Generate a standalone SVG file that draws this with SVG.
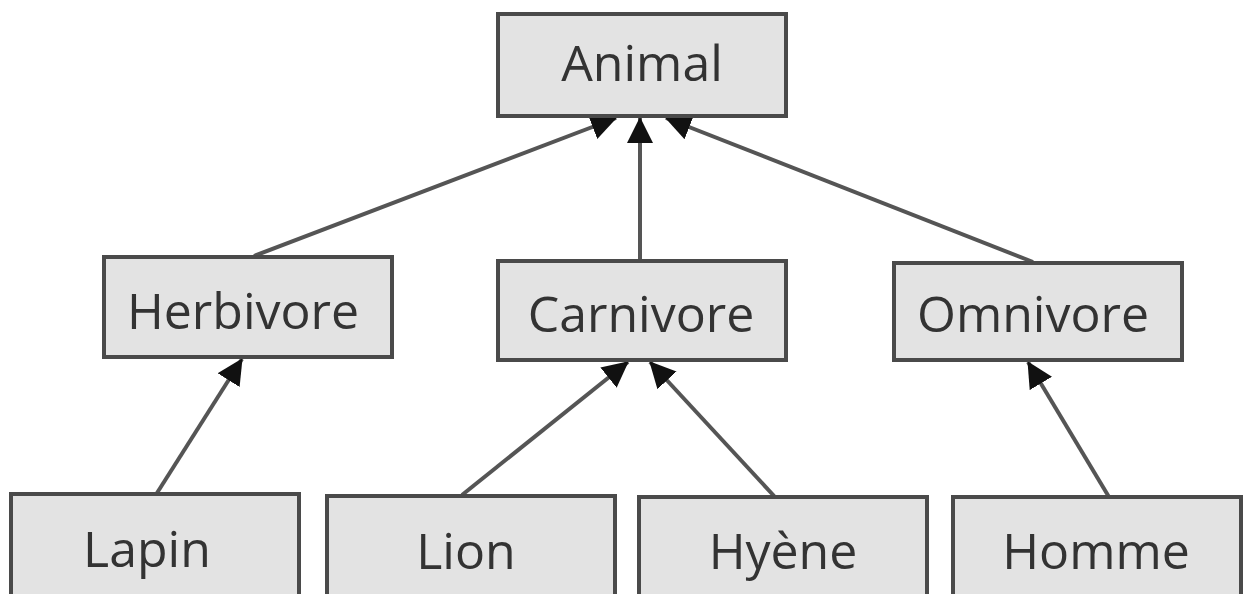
<svg xmlns="http://www.w3.org/2000/svg" width="1243" height="594" viewBox="0 0 1243 594">
  <style>
    .box { fill: #e3e3e3; stroke: #4a4a4a; stroke-width: 4; }
    .lbl { font-family: "Open Sans", "DejaVu Sans", sans-serif; font-size: 50px; fill: #333; text-anchor: middle; }
    .edge { stroke: #555555; stroke-width: 4; fill: none; marker-end: url(#head); }
  </style>
  <defs>
    <marker id="head" markerUnits="userSpaceOnUse" markerWidth="26" markerHeight="28" viewBox="0 0 26 28" refX="25" refY="14" orient="auto">
      <path d="M0,1 L26,14 L0,27 Z" fill="#111"/>
    </marker>
  </defs>
  <rect width="1243" height="594" fill="#ffffff"/>

  <!-- inheritance links -->
  <g id="connectors">
    <line class="edge" x1="254" y1="256" x2="616" y2="118"/>
    <line class="edge" x1="640" y1="260" x2="640" y2="118"/>
    <line class="edge" x1="1033" y1="262" x2="666" y2="118"/>
    <line class="edge" x1="157" y1="493" x2="242" y2="359"/>
    <line class="edge" x1="462" y1="495" x2="628" y2="362"/>
    <line class="edge" x1="775" y1="497" x2="650" y2="362"/>
    <line class="edge" x1="1109" y1="497" x2="1028" y2="362"/>
  </g>

  <g id="animal">
    <rect class="box" x="498" y="14" width="288" height="102"/>
    <text class="lbl" x="642" y="81">Animal</text>
  </g>
  <g id="herbivore">
    <rect class="box" x="104" y="257" width="288" height="100"/>
    <text class="lbl" x="243" y="329">Herbivore</text>
  </g>
  <g id="carnivore">
    <rect class="box" x="498" y="261" width="288" height="99"/>
    <text class="lbl" x="641" y="332">Carnivore</text>
  </g>
  <g id="omnivore">
    <rect class="box" x="894" y="263" width="288" height="97"/>
    <text class="lbl" x="1033" y="332">Omnivore</text>
  </g>
  <g id="lapin">
    <rect class="box" x="11" y="494" width="288" height="110"/>
    <text class="lbl" x="147" y="567">Lapin</text>
  </g>
  <g id="lion">
    <rect class="box" x="327" y="496" width="288" height="110"/>
    <text class="lbl" x="466" y="569">Lion</text>
  </g>
  <g id="hyene">
    <rect class="box" x="639" y="497" width="288" height="110"/>
    <text class="lbl" x="783" y="569">Hyène</text>
  </g>
  <g id="homme">
    <rect class="box" x="953" y="497" width="288" height="110"/>
    <text class="lbl" x="1096" y="569">Homme</text>
  </g>
</svg>
